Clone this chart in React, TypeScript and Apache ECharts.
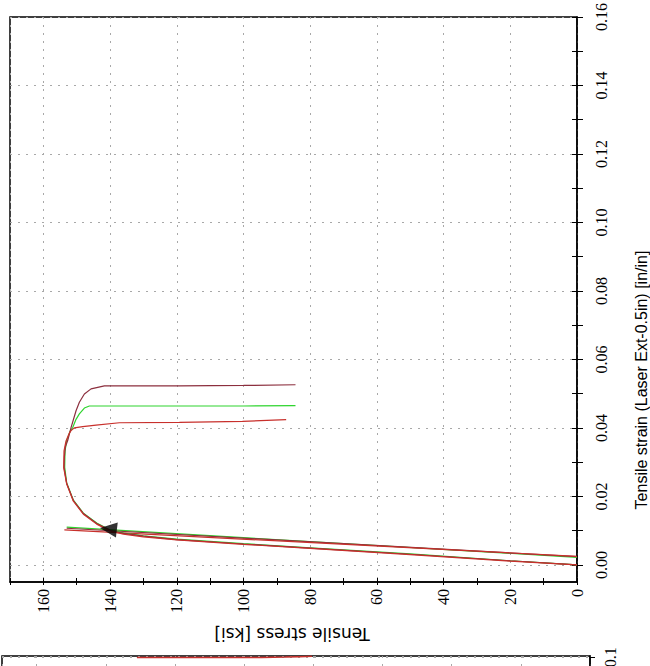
import React, { useEffect, useRef } from "react";
import * as echarts from "echarts";

// Axis ticks
const strainMajorTicks = [0, 0.02, 0.04, 0.06, 0.08, 0.1, 0.12, 0.14, 0.16];
const strainMinorTicks = [0, 0.01, 0.02, 0.03, 0.04, 0.05, 0.06, 0.07, 0.08, 0.09, 0.1, 0.11, 0.12, 0.13, 0.14, 0.15, 0.16];
const stressTickLabels = [0, 20, 40, 60, 80, 100, 120, 140, 160];

const xAxisTitle = "Tensile stress [ksi]";
const yAxisTitle = "Tensile strain (Laser Ext-0.5in) [in/in]";

// Specimen curves: [stress ksi, strain in/in]
const specimenA: number[][] = [
  [0, 0], [20, 0.0012], [50, 0.0031], [80, 0.0049], [100, 0.0061], [120, 0.0074],
  [130, 0.0084], [136, 0.0092], [140, 0.0101], [144, 0.0121], [148, 0.015],
  [151, 0.0188], [153, 0.0238], [153.8, 0.0285], [153.7, 0.0315], [153.4, 0.0345],
  [152.7, 0.0363], [151.7, 0.0401], [150.2, 0.045], [149.2, 0.0475], [147.7, 0.0499],
  [145.7, 0.0514], [141.7, 0.0523], [119.2, 0.0523], [100, 0.0524], [84.4, 0.0526],
];
const specimenB: number[][] = [
  [0, 0], [20, 0.0012], [50, 0.0032], [80, 0.005], [100, 0.0062], [120, 0.0075],
  [130, 0.0085], [136, 0.0093], [140, 0.0102], [144, 0.0122], [148, 0.0151],
  [151, 0.0189], [153, 0.0239], [153.6, 0.0285], [153.5, 0.0333], [153, 0.0363],
  [152, 0.039], [151.2, 0.0401], [150.2, 0.0425], [149.2, 0.0441], [147.7, 0.0458],
  [146.2, 0.0464], [140, 0.0464], [120, 0.0464], [100, 0.0464], [84.4, 0.0465],
];
const specimenC: number[][] = [
  [0, 0], [20, 0.0011], [50, 0.003], [80, 0.0048], [100, 0.006], [120, 0.0073],
  [130, 0.0082], [136, 0.009], [140, 0.0099], [144, 0.0119], [148, 0.0148],
  [151, 0.0186], [153, 0.0236], [153.9, 0.0284], [153.8, 0.0333], [153.2, 0.0362],
  [152.2, 0.0385], [151.7, 0.0392], [150.7, 0.04], [148.2, 0.0404], [144.2, 0.0408],
  [137.2, 0.0415], [119.2, 0.0416], [100.3, 0.0419], [87.2, 0.0424],
];

// 0.2% offset lines: [stress, strain]
const offsetA: number[][] = [[0, 0.0024], [153, 0.0107]];
const offsetB: number[][] = [[0, 0.0022], [153, 0.011]];
const offsetC: number[][] = [[0, 0.0025], [153.7, 0.0102]];

// Yield marker
const yieldPoint: number[][] = [[140.5, 0.0105]];

// Fragment of the next chart below
const nextChartLine: number[][] = [[131, 0.0996], [110, 0.0996], [95, 0.0997], [88, 0.1003], [84, 0.1008], [80.4, 0.1012]];

const colA = "#8c2f3e";
const colB = "#2fd42f";
const colC = "#c8302c";

export default function App() {
  const ref = useRef<HTMLDivElement>(null);
  useEffect(() => {
    document.body.style.margin = "0";
    if (!ref.current) return;
    const chart = echarts.init(ref.current, null, { renderer: "svg" });
    const tickFont = { fontFamily: "Liberation Serif", fontSize: 16, color: "#000" };
    const grid = { lineStyle: { color: "#a8a8a8", type: [2, 6] as any, width: 1 } };
    const lineSeries = (data: number[][], color: string, w = 1.2, xi = 0, yi = 0) => ({
      type: "line",
      data,
      xAxisIndex: xi,
      yAxisIndex: yi,
      showSymbol: false,
      symbol: "none",
      lineStyle: { color, width: w },
      itemStyle: { color },
      clip: true,
    });
    chart.setOption({
      animation: false,
      backgroundColor: "#fff",
      grid: [
        { left: 10, right: 73, top: 17, bottom: 84, show: true, borderColor: "#000", borderWidth: 1.5, containLabel: false },
        { left: 2, right: 60, top: 656, height: 300, show: true, borderColor: "#000", borderWidth: 1.5, containLabel: false },
      ],
      xAxis: [
        {
          gridIndex: 0, type: "value", min: 0, max: 170, interval: 20, inverse: true, position: "bottom",
          axisLine: { show: true, onZero: false, lineStyle: { color: "#000", width: 1.5 } },
          axisTick: { show: false },
          axisLabel: {
            ...tickFont, rotate: 90, margin: 7, showMaxLabel: false,
            formatter: (v: number) => (stressTickLabels.includes(v) ? String(v) : ""),
          },
          splitLine: { show: true, ...grid },
        },
        {
          gridIndex: 0, type: "value", min: 0, max: 170, interval: 10, inverse: true, position: "bottom", offset: -4,
          axisLine: { show: false, onZero: false },
          axisTick: { show: true, inside: false, length: 7, lineStyle: { color: "#000", width: 1 } },
          axisLabel: { show: false },
          splitLine: { show: false },
        },
        {
          gridIndex: 1, type: "value", min: 0, max: 170, interval: 20, inverse: true, position: "bottom",
          axisLine: { show: false, onZero: false },
          axisTick: { show: false },
          axisLabel: { show: false },
          splitLine: { show: true, ...grid },
        },
      ],
      yAxis: [
        {
          gridIndex: 0, type: "value", min: -0.005, max: 0.16, position: "right",
          axisLine: { show: true, onZero: false, lineStyle: { color: "#000", width: 1.5 } },
          axisTick: { show: false, customValues: strainMajorTicks },
          axisLabel: {
            ...tickFont, rotate: 90, margin: 16, customValues: strainMajorTicks,
            formatter: (v: number) => v.toFixed(2),
          },
          splitLine: { show: true, ...grid },
        },
        {
          gridIndex: 0, type: "value", min: -0.005, max: 0.16, position: "right", offset: -5,
          axisLine: { show: false, onZero: false },
          axisTick: { show: true, inside: false, length: 11, customValues: strainMinorTicks, lineStyle: { color: "#000", width: 1 } },
          axisLabel: { show: false },
          splitLine: { show: false },
        },
        {
          gridIndex: 1, type: "value", min: 0, max: 0.1017, interval: 0.1, position: "right",
          axisLine: { show: true, onZero: false, lineStyle: { color: "#000", width: 1.5 } },
          axisTick: { show: true, inside: false, length: 5, lineStyle: { color: "#000" } },
          axisLabel: {
            ...tickFont, rotate: 90, margin: 12, showMaxLabel: false,
            formatter: (v: number) => (Math.abs(v - 0.1) < 1e-9 ? "0.1" : ""),
          },
          splitLine: { show: true, ...grid },
        },
      ],
      graphic: [
        {
          type: "text", x: 641, y: 380, rotation: Math.PI / 2,
          style: { text: yAxisTitle, fontFamily: "Liberation Sans", fontSize: 16, fill: "#000", textAlign: "center", textVerticalAlign: "middle" },
        },
        {
          type: "text", x: 292, y: 634, rotation: Math.PI,
          style: { text: xAxisTitle, fontFamily: "DejaVu Sans", fontSize: 17, fill: "#000", textAlign: "center", textVerticalAlign: "middle" },
        },
      ],
      series: [
        lineSeries(offsetB, colB),
        lineSeries(offsetA, colA),
        lineSeries(offsetC, colC),
        lineSeries(specimenB, colB),
        lineSeries(specimenA, colA),
        lineSeries(specimenC, colC),
        {
          type: "scatter", xAxisIndex: 0, yAxisIndex: 0, data: yieldPoint,
          symbol: "triangle", symbolSize: [15, 17], symbolRotate: 83,
          itemStyle: { color: "#000" }, z: 5,
        },
        lineSeries(nextChartLine, colC, 1.5, 2, 2),
      ],
    });
    return () => chart.dispose();
  }, []);
  return <div ref={ref} style={{ width: 650, height: 666 }} />;
}
